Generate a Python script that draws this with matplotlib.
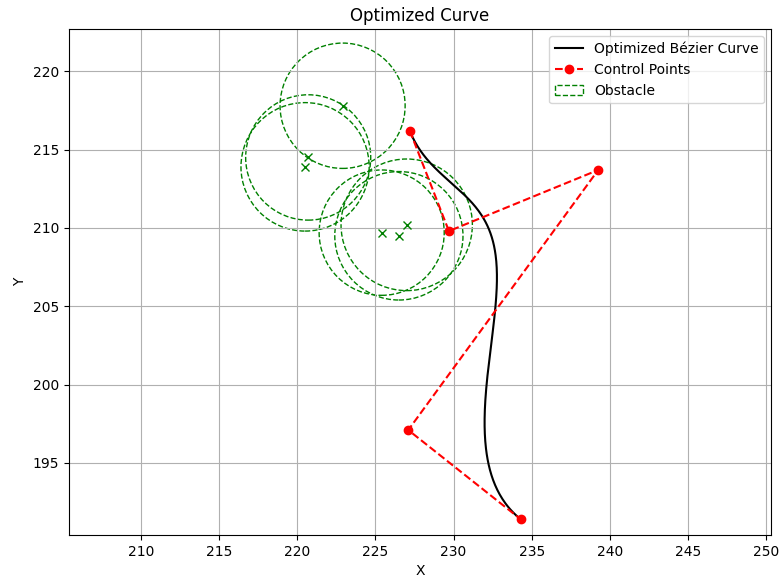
import numpy as np
import matplotlib
matplotlib.use("Agg")
import matplotlib.pyplot as plt
from matplotlib.patches import Circle
from math import comb

ctrl_x = [227.2, 229.7, 239.25, 227.1, 234.3]
ctrl_y = [216.2, 209.8, 213.7, 197.1, 191.4]
obs_x = [222.9, 220.7, 220.5, 225.4, 226.5, 227.0]
obs_y = [217.8, 214.5, 213.9, 209.7, 209.5, 210.2]
obs_r = [4.0, 4.0, 4.1, 4.0, 4.1, 4.2]

fig = plt.figure(figsize=(7.84, 5.83), dpi=100)
ax = fig.add_axes([0.088, 0.0823, 0.8954, 0.868])

n = len(ctrl_x) - 1
t = np.linspace(0, 1, 300)
bx = sum(comb(n, i) * (1 - t) ** (n - i) * t ** i * ctrl_x[i] for i in range(n + 1))
by = sum(comb(n, i) * (1 - t) ** (n - i) * t ** i * ctrl_y[i] for i in range(n + 1))
ax.plot(bx, by, 'k-', label='Optimized Bézier Curve')
ax.plot(ctrl_x, ctrl_y, 'ro--', label='Control Points')
for i, (x, y, r) in enumerate(zip(obs_x, obs_y, obs_r)):
    ax.add_patch(Circle((x, y), r, fill=False, edgecolor='green', linestyle='--',
                        label='Obstacle' if i == 0 else None))
    ax.plot(x, y, 'gx')

ax.set_xlim(205.4, 250.3)
ax.set_ylim(190.4, 222.7)
ax.set_xticks(range(210, 251, 5))
ax.set_yticks(range(195, 221, 5))
ax.grid(True)
ax.set_xlabel('X')
ax.set_ylabel('Y')
ax.set_title('Optimized Curve')
ax.legend(loc='upper right')
fig.savefig('out.png', dpi=100)
